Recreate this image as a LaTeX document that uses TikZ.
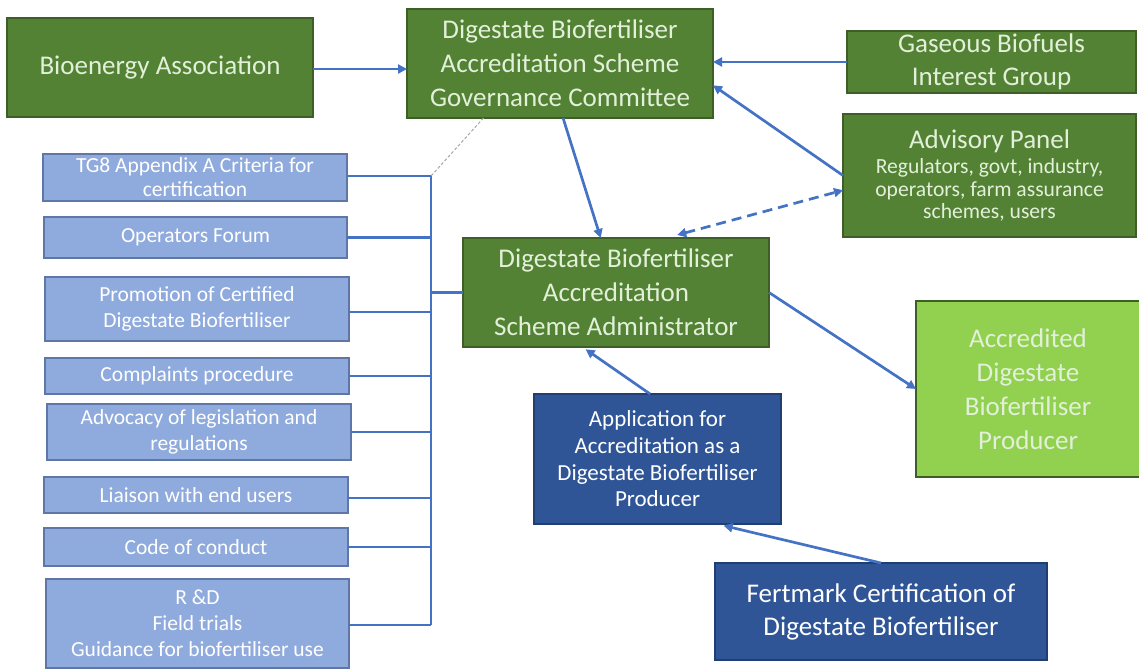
\documentclass[tikz,border=0pt]{standalone}
\usepackage{fontspec}
\setmainfont{Carlito}
\usetikzlibrary{arrows.meta,calc}
\definecolor{dgreen}{HTML}{548235}
\definecolor{gborder}{HTML}{3D5E27}
\definecolor{gtext}{HTML}{E2F0D9}
\definecolor{lgreen}{HTML}{92D050}
\definecolor{lblue}{HTML}{8FAADC}
\definecolor{lborder}{HTML}{5F77A6}
\definecolor{dblue}{HTML}{2F5597}
\definecolor{dbborder}{HTML}{203E72}
\definecolor{linec}{HTML}{4472C4}
\tikzset{
  box/.style={rectangle, inner sep=0pt, outer sep=0pt, align=center, line width=1.4pt},
  gbox/.style={box, fill=dgreen, draw=gborder, text=gtext, font=\fontsize{27}{34}\selectfont},
  lgbox/.style={box, fill=lgreen, draw=gborder, text=gtext, font=\fontsize{27}{34}\selectfont},
  lbox/.style={box, fill=lblue, draw=lborder, text=white, font=\fontsize{21.5}{26}\selectfont},
  dbbox/.style={box, fill=dblue, draw=dbborder, text=white},
  conn/.style={draw=linec, line width=2.7pt},
  arr/.style={conn, -{Triangle[length=9pt,width=9pt]}},
  darr/.style={conn, dashed, dash pattern=on 10pt off 6pt, {Triangle[length=9pt,width=9pt]}-{Triangle[length=9pt,width=9pt]}},
  dot/.style={draw=gray!70, line width=1pt, dashed, dash pattern=on 3pt off 2pt}
}
\begin{document}
\begin{tikzpicture}[x=1pt,y=-1pt]
\useasboundingbox (0,0) rectangle (1139,671);
% green boxes
\node[gbox, minimum width=306pt, minimum height=99pt] (bio) at (160,67.5) {Bioenergy Association};
\node[gbox, minimum width=306pt, minimum height=109pt] (gov) at (560,63.5) {Digestate Biofertiliser\\Accreditation Scheme\\Governance Committee};
\node[gbox, minimum width=289pt, minimum height=62pt, font=\fontsize{27}{33}\selectfont] (gas) at (991.5,62) {Gaseous Biofuels\\Interest Group};
\node[gbox, minimum width=293pt, minimum height=123pt, font=\fontsize{21.6}{22.5}\selectfont] (adv) at (989.5,175.5) {{\fontsize{27}{30}\selectfont Advisory Panel}\\[3pt]Regulators, govt, industry,\\operators, farm assurance\\schemes, users};
\node[gbox, minimum width=306pt, minimum height=109pt] (admin) at (616,292.5) {Digestate Biofertiliser\\Accreditation\\Scheme Administrator};
\node[lgbox, minimum width=224pt, minimum height=176pt] (acc) at (1028,389) {Accredited\\Digestate\\Biofertiliser\\Producer};
% blue boxes
\node[dbbox, minimum width=247pt, minimum height=130pt, font=\fontsize{23}{26.7}\selectfont] (app) at (657.5,459) {Application for\\Accreditation as a\\Digestate Biofertiliser\\Producer};
\node[dbbox, minimum width=332pt, minimum height=97pt, font=\fontsize{27}{33}\selectfont] (fert) at (881,611.5) {Fertmark Certification of\\Digestate Biofertiliser};
% left list
\node[lbox, minimum width=304pt, minimum height=47pt, font=\fontsize{21.5}{24}\selectfont] (tg8) at (195,177.5) {TG8 Appendix A Criteria for\\certification};
\node[lbox, minimum width=303pt, minimum height=41pt] (ops) at (195.5,237.5) {Operators Forum};
\node[lbox, minimum width=304pt, minimum height=64pt] (promo) at (197,309) {Promotion of Certified\\Digestate Biofertiliser};
\node[lbox, minimum width=304pt, minimum height=36pt] (compl) at (197,376) {Complaints procedure};
\node[lbox, minimum width=304pt, minimum height=56pt] (advoc) at (199,432) {Advocacy of legislation and\\regulations};
\node[lbox, minimum width=304pt, minimum height=36pt] (liais) at (196,495) {Liaison with end users};
\node[lbox, minimum width=304pt, minimum height=38pt] (code) at (196,547) {Code of conduct};
\node[lbox, minimum width=303pt, minimum height=89pt] (rd) at (197.5,623.5) {R \&D\\Field trials\\Guidance for biofertiliser use};
% bus
\coordinate (bustop) at (431,176);
\coordinate (busbot) at (431,625);
\coordinate (busmid) at (431,292.5);
\draw[dot] ($(gov.south west)!0.25!(gov.south east)$) -- (bustop);
\draw[conn] (bustop) -- (busbot);
\draw[conn] (tg8.east |- bustop) -- (bustop);
\draw[conn] (ops.east) -- (ops.east -| bustop);
\draw[conn] ($(promo.east)+(0,3)$) -- ($(promo.east -| bustop)+(0,3)$);
\draw[conn] (compl.east) -- (compl.east -| bustop);
\draw[conn] (advoc.east) -- (advoc.east -| bustop);
\draw[conn] ($(liais.east)+(0,3)$) -- ($(liais.east -| bustop)+(0,3)$);
\draw[conn] (code.east) -- (code.east -| bustop);
\draw[conn] (rd.east |- busbot) -- (busbot);
\draw[conn] (busmid) -- (admin.west);
% arrows
\draw[arr] ($(bio.east)+(0,1.5)$) -- ($(bio.east -| gov.west)+(0,1.5)$);
\draw[arr] (gas.west) -- (gas.west -| gov.east);
\draw[arr] (adv.west) -- ($(gov.north east)!0.7!(gov.south east)$);
\draw[arr] ($(gov.south west)!0.51!(gov.south east)$) -- ($(admin.north west)!0.45!(admin.north east)$);
\draw[darr] ($(admin.north west)!0.70!(admin.north east)+(0,-3)$) -- ($(adv.north west)!0.62!(adv.south west)$);
\draw[arr] (admin.east) -- (acc.west);
\draw[arr, shorten >=4pt] ($(app.north west)!0.47!(app.north east)$) -- ($(admin.south west)!0.39!(admin.south east)$);
\draw[arr, shorten >=7pt] (fert.north) -- ($(app.south west)!0.74!(app.south east)$);
\end{tikzpicture}
\end{document}
